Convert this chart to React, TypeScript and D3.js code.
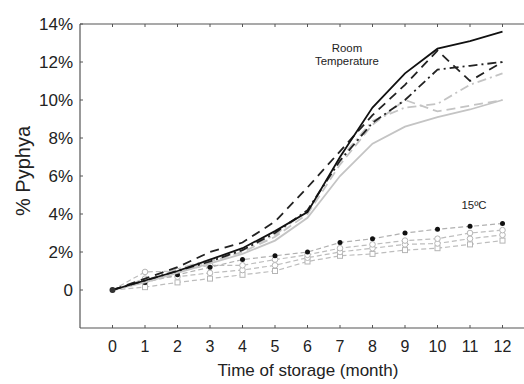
import React from 'react';
import * as d3 from 'd3';

// months on x
const months = [0, 1, 2, 3, 4, 5, 6, 7, 8, 9, 10, 11, 12];
const yTicks = [0, 2, 4, 6, 8, 10, 12, 14];

// room temperature series (% pyphya)
const roomBlackSolid = [0, 0.5, 1.0, 1.6, 2.2, 3.1, 4.1, 7.0, 9.6, 11.4, 12.7, 13.1, 13.6];
const roomBlackDash = [0, 0.6, 1.2, 2.0, 2.5, 3.6, 5.4, 7.3, 9.2, 10.8, 12.6, 11.0, 12.0];
const roomBlackDashDot = [0, 0.5, 1.0, 1.5, 2.1, 3.0, 4.2, 6.8, 8.8, 10.0, 11.6, 11.8, 12.0];
const roomGraySolid = [0, 0.4, 0.9, 1.4, 1.9, 2.6, 3.8, 6.0, 7.7, 8.6, 9.1, 9.5, 10.0];
const roomGrayDash = [0, 0.5, 1.0, 1.5, 2.0, 2.8, 4.0, 6.6, 8.7, 10.0, 9.4, 9.7, 10.0];
const roomGrayDashDot = [0, 0.5, 1.1, 1.6, 2.1, 2.9, 4.2, 6.9, 8.9, 9.6, 9.8, 10.8, 11.4];

// 15ºC series
const cold1 = [0, 0.4, 0.8, 1.2, 1.6, 1.8, 2.0, 2.5, 2.7, 3.0, 3.2, 3.35, 3.5];
const cold2 = [0, 0.95, 1.0, 1.3, 1.3, 1.6, 1.85, 2.2, 2.4, 2.6, 2.7, 3.0, 3.15];
const cold3 = [0, 0.6, 0.7, 0.9, 1.05, 1.3, 1.7, 2.0, 2.2, 2.4, 2.45, 2.7, 2.9];
const cold4 = [0, 0.15, 0.4, 0.6, 0.8, 1.0, 1.5, 1.8, 1.9, 2.1, 2.2, 2.4, 2.6];

const W = 524;
const H = 384;
const left = 80;
const top = 24;
const bottom = 328;

const x = d3.scaleLinear().domain([-1, 13]).range([left, 535]);
const y = d3.scaleLinear().domain([-2, 14]).range([bottom, top]);

const line = d3
  .line<number>()
  .x((_, i) => x(months[i]))
  .y((d) => y(d));

const font = '"Liberation Sans", Arial, sans-serif';

const roomSeries = [
  { values: roomGraySolid, color: '#c4c4c4', dash: '' },
  { values: roomGrayDash, color: '#c4c4c4', dash: '9,5' },
  { values: roomGrayDashDot, color: '#c4c4c4', dash: '9,4,2,4' },
  { values: roomBlackDashDot, color: '#222', dash: '9,4,2,4' },
  { values: roomBlackDash, color: '#222', dash: '9,6' },
  { values: roomBlackSolid, color: '#111', dash: '' },
];

const coldSeries = [
  { values: cold4, marker: 'square' },
  { values: cold3, marker: 'circle' },
  { values: cold2, marker: 'circle' },
];

export default function App() {
  return (
    <svg
      width={W}
      height={H}
      style={{ position: 'absolute', left: 0, top: 0, background: '#fff' }}
    >
      {/* frame */}
      <g stroke="#555" strokeWidth={1.2}>
        <line x1={left} x2={left} y1={top} y2={bottom} />
        <line x1={left} x2={W} y1={top} y2={top} />
        <line x1={left} x2={W} y1={bottom} y2={bottom} />
      </g>
      {/* ticks */}
      <g stroke="#555" strokeWidth={1}>
        {months.map((m) => (
          <g key={m}>
            <line x1={x(m)} x2={x(m)} y1={bottom} y2={bottom - 3} />
            <line x1={x(m)} x2={x(m)} y1={top} y2={top + 3} />
          </g>
        ))}
        {yTicks.map((t) => (
          <line key={t} x1={left} x2={left + 3} y1={y(t)} y2={y(t)} />
        ))}
      </g>
      {/* tick labels */}
      <g fontFamily={font} fill="#222">
        {yTicks.map((t) => (
          <text key={t} x={left - 7} y={y(t)} dy="0.36em" textAnchor="end" fontSize={17}>
            {t === 0 ? '0' : `${t}%`}
          </text>
        ))}
        {months.map((m) => (
          <text key={m} x={x(m)} y={352} textAnchor="middle" fontSize={16}>
            {m}
          </text>
        ))}
        <text x={308} y={376} textAnchor="middle" fontSize={17}>
          Time of storage (month)
        </text>
        <text transform={`translate(30,171) rotate(-90)`} textAnchor="middle" fontSize={20}>
          % Pyphya
        </text>
      </g>

      {/* 15ºC series */}
      {coldSeries.map((s, i) => (
        <g key={i}>
          <path d={line(s.values) || ''} fill="none" stroke="#bdbdbd" strokeWidth={1.2} strokeDasharray="5,3" />
          {s.values.map((v, j) =>
            j === 0 ? null : s.marker === 'square' ? (
              <rect key={j} x={x(months[j]) - 2.5} y={y(v) - 2.5} width={5} height={5} fill="#fff" stroke="#b5b5b5" />
            ) : (
              <circle key={j} cx={x(months[j])} cy={y(v)} r={2.8} fill="#fff" stroke="#b5b5b5" />
            )
          )}
        </g>
      ))}
      <path d={line(cold1) || ''} fill="none" stroke="#b0b0b0" strokeWidth={1.2} strokeDasharray="5,3" />
      {cold1.map((v, j) => (
        <circle key={j} cx={x(months[j])} cy={y(v)} r={2.5} fill="#111" />
      ))}

      {/* room temperature series */}
      {roomSeries.map((s, i) => (
        <path
          key={i}
          d={line(s.values) || ''}
          fill="none"
          stroke={s.color}
          strokeWidth={1.8}
          strokeDasharray={s.dash || undefined}
        />
      ))}
      <circle cx={x(0)} cy={y(0)} r={3} fill="#333" />

      {/* annotations */}
      <g fontFamily={font} fontSize={11.4} fill="#222" textAnchor="middle">
        <text x={347} y={52}>Room</text>
        <text x={347} y={65}>Temperature</text>
        <text x={474} y={209}>15ºC</text>
      </g>
    </svg>
  );
}
